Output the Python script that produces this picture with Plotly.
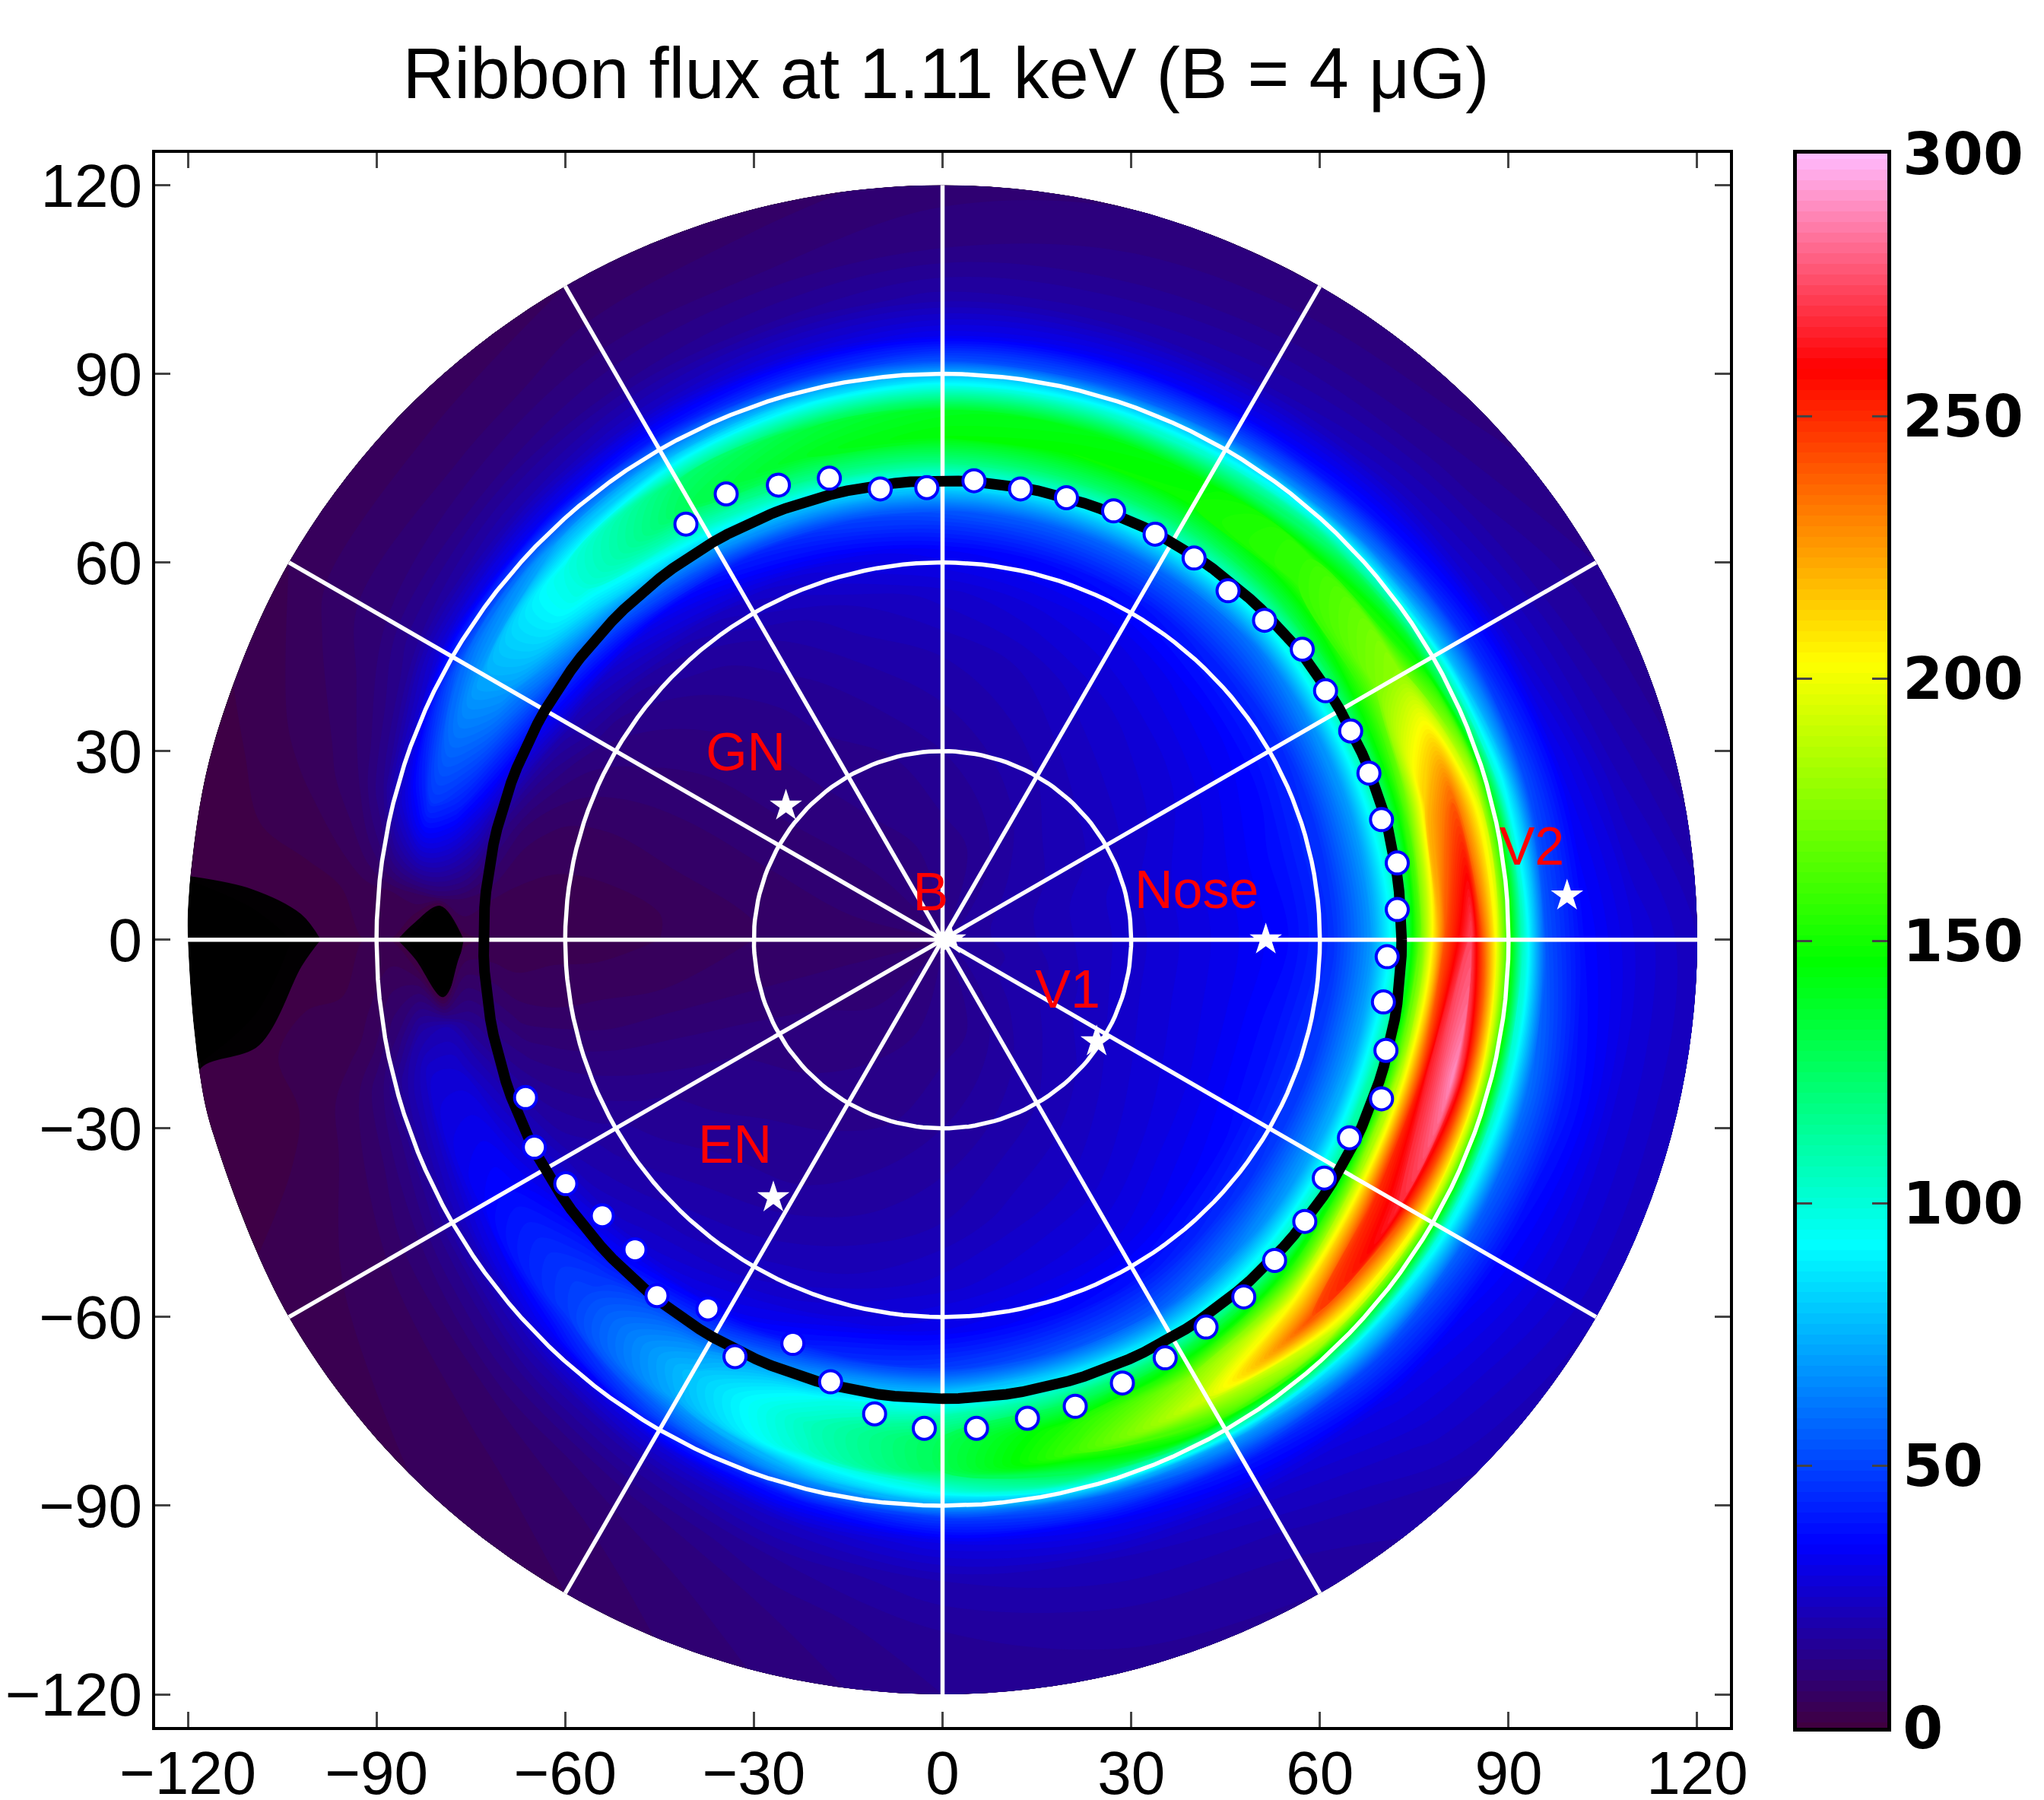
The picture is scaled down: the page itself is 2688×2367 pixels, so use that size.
import numpy as np
import plotly.graph_objects as go

# flux table: one row per angle (deg from +x), one column per radius
radii = [1, 15, 30, 45, 55, 62, 68, 72, 76, 80, 84, 88, 92, 96, 102, 110, 120]
angles = [-180, -170, -165, -150, -135, -120, -105, -90, -75, -60, -45, -30, -15, 0,
          15, 30, 45, 60, 75, 90, 105, 120, 135, 150, 165, 175, 180]
flux = [
    [10, 9, 8, 6, 5, 5, 4, 4, 3, -30, -2, 4, 4, 3, 1, -4, -30],
    [10, 10, 9, 8, 8, 8, 9, 12, 16, 22, 20, 12, 7, 5, 6, 3, 2],
    [10, 10, 10, 10, 10, 11, 13, 16, 22, 28, 28, 20, 12, 8, 5, 3, 2],
    [10, 11, 13, 15, 17, 19, 22, 28, 34, 38, 36, 26, 17, 12, 8, 6, 5],
    [11, 12, 14, 17, 20, 23, 28, 38, 48, 52, 50, 36, 23, 16, 10, 7, 6],
    [12, 13, 15, 18, 22, 26, 34, 52, 72, 80, 76, 55, 30, 20, 13, 10, 8],
    [13, 14, 16, 20, 24, 30, 45, 72, 98, 108, 105, 75, 40, 26, 18, 14, 12],
    [14, 15, 18, 22, 27, 34, 50, 80, 112, 130, 130, 95, 50, 32, 22, 18, 16],
    [15, 16, 20, 25, 30, 37, 55, 88, 125, 155, 162, 125, 58, 36, 24, 20, 17],
    [16, 18, 22, 27, 32, 40, 58, 90, 135, 178, 195, 160, 72, 42, 27, 21, 18],
    [17, 20, 24, 30, 36, 46, 68, 100, 150, 205, 245, 190, 90, 52, 33, 27, 22],
    [18, 21, 26, 32, 39, 50, 75, 112, 185, 250, 268, 205, 100, 58, 38, 30, 24],
    [18, 21, 27, 33, 40, 50, 75, 115, 190, 265, 290, 210, 105, 62, 42, 30, 24],
    [18, 22, 27, 33, 38, 47, 70, 100, 170, 243, 275, 203, 110, 55, 38, 30, 24],
    [18, 22, 27, 33, 39, 48, 72, 105, 160, 220, 240, 195, 100, 54, 34, 24, 18],
    [18, 21, 25, 31, 37, 46, 70, 105, 148, 175, 180, 145, 80, 47, 28, 20, 16],
    [17, 20, 24, 29, 35, 44, 62, 95, 132, 158, 160, 122, 65, 40, 25, 17, 13],
    [16, 18, 22, 27, 32, 40, 60, 92, 125, 150, 146, 103, 58, 36, 22, 16, 12],
    [15, 16, 20, 24, 30, 38, 58, 88, 124, 148, 143, 100, 55, 35, 21, 15, 12],
    [14, 15, 18, 22, 27, 36, 55, 85, 120, 146, 141, 98, 55, 34, 21, 14, 11],
    [13, 14, 16, 20, 24, 32, 50, 80, 117, 141, 134, 90, 48, 30, 18, 12, 9],
    [12, 13, 15, 17, 20, 26, 42, 72, 107, 130, 124, 80, 42, 26, 16, 11, 8],
    [11, 12, 13, 14, 16, 20, 32, 55, 85, 102, 100, 72, 35, 22, 14, 9, 7],
    [10, 11, 11, 11, 12, 14, 22, 38, 58, 72, 75, 60, 30, 18, 12, 9, 6],
    [10, 10, 9, 8, 7, 7, 9, 15, 30, 42, 48, 32, 16, 10, 7, 5, 3],
    [10, 9, 8, 6, 5, 5, 5, 6, 8, 10, 8, 6, 5, 4, 3, 3, 3],
    [10, 9, 8, 6, 5, 5, 4, 4, 3, -30, -2, 4, 4, 3, 1, -4, -30],
]

dots_x = [-40.8, -34.4, -26.1, -18.0, -9.9, -2.5, 5.0, 12.4, 19.7, 27.2, 33.8, 40.0, 45.4, 51.2, 57.2, 60.9,
          64.9, 67.8, 69.8, 72.3, 72.3, 70.7, 70.1, 70.5, 69.8, 64.7, 60.7, 57.6, 52.8, 47.9, 41.9, 35.4,
          28.6, 21.1, 13.5, 5.4, -2.9, -10.8, -17.8, -23.8, -33.0, -37.3, -45.4, -48.9, -54.1, -59.9, -64.9, -66.3]
dots_y = [66.1, 70.9, 72.3, 73.4, 71.7, 71.9, 73.0, 71.7, 70.3, 68.2, 64.5, 60.7, 55.5, 50.8, 46.2, 39.6,
          33.2, 26.5, 19.1, 12.2, 4.8, -2.7, -9.9, -17.6, -25.3, -31.5, -37.9, -44.8, -51.0, -56.8, -61.6, -66.5,
          -70.5, -74.2, -76.1, -77.7, -77.7, -75.4, -70.3, -64.2, -66.3, -58.7, -56.6, -49.3, -43.9, -38.8, -33.0, -25.1]

star_names = ["GN", "V2", "Nose", "V1", "EN", "B"]
star_x = [-24.9, 99.3, 51.4, 24.5, -26.9, 1.2]
star_y = [21.3, 7.0, 0.0, -16.2, -41.0, 0.0]
label_x = [-31.3, 93.7, 40.4, 19.9, -33.0, -1.9]
label_y = [29.0, 14.0, 7.2, -8.7, -33.4, 6.8]

ribbon_radius = 73
grid_radii = [30, 60, 90]
spoke_angles = [0, 30, 60, 90, 120, 150, 180, 210, 240, 270, 300, 330]
tick_vals = [-120, -90, -60, -30, 0, 30, 60, 90, 120]
cbar_ticks = [0, 50, 100, 150, 200, 250, 300]
cbar_levels = list(range(0, 301, 2))

W, H = 2688, 2367
zmin, zmax = -6, 300


def px(v):
    return v / W


def py(v):
    return 1 - v / H


def norm(v):
    return (v - zmin) / (zmax - zmin)


colors = [
    [0, "#000000"], [norm(-1), "#000000"], [norm(0), "#400040"], [norm(35), "#0000ff"], [norm(92), "#00ffff"],
    [norm(146), "#00ff00"], [norm(203), "#ffff00"], [norm(259), "#ff0000"], [1, "#ffbbff"],
]

rr, aa = np.meshgrid(radii, np.radians(angles))
hidden = dict(showgrid=False, minorgridcount=0, startline=False, endline=False,
              showticklabels="none", smoothing=1, labelpadding=0)

fig = go.Figure()
fig.add_trace(go.Carpet(a=radii, b=angles, x=rr * np.cos(aa), y=rr * np.sin(aa), carpet="map",
                        aaxis=hidden, baxis=hidden))
fig.add_trace(go.Contourcarpet(a=radii, b=angles, z=flux, carpet="map", autocontour=False,
                               contours=dict(start=-4, end=300, size=2, coloring="fill", showlines=False),
                               line=dict(width=0), colorscale=colors, zmin=zmin, zmax=zmax, showscale=False))

t = np.radians(np.arange(0, 361, 2))
for r in grid_radii:
    fig.add_trace(go.Scatter(x=r * np.cos(t), y=r * np.sin(t), mode="lines",
                             line=dict(color="white", width=5.5), showlegend=False))
for a in spoke_angles:
    fig.add_trace(go.Scatter(x=[0, 120 * np.cos(np.radians(a))], y=[0, 120 * np.sin(np.radians(a))], mode="lines",
                             line=dict(color="white", width=5.5), showlegend=False))
fig.add_trace(go.Scatter(x=ribbon_radius * np.cos(t), y=ribbon_radius * np.sin(t), mode="lines",
                         line=dict(color="black", width=14), showlegend=False))
fig.add_trace(go.Scatter(x=dots_x, y=dots_y, mode="markers",
                         marker=dict(size=29, color="white", line=dict(color="#0000ff", width=4)), showlegend=False))
fig.add_trace(go.Scatter(x=star_x, y=star_y, mode="markers",
                         marker=dict(symbol="star", size=32, color="white", line=dict(width=0)), showlegend=False))
fig.add_trace(go.Scatter(x=label_x, y=label_y, mode="text", text=star_names,
                         textfont=dict(family="Liberation Sans", size=70, color="#ff0000"), showlegend=False))

# colour bar as its own little axes so the ticks can sit on both sides
fig.add_trace(go.Heatmap(x=[0, 1], y=cbar_levels, z=[[v, v] for v in cbar_levels], xaxis="x2", yaxis="y2",
                         colorscale=colors, zmin=zmin, zmax=zmax, showscale=False))

axis = dict(range=[-125.2, 125.2], tickvals=tick_vals, ticks="inside", ticklen=20, tickwidth=3, automargin=False,
            showline=True, linecolor="black", linewidth=4, mirror="allticks", showgrid=False, zeroline=False,
            tickfont=dict(family="Liberation Sans", size=80, color="black"))
fig.update_layout(
    width=W, height=H, margin=dict(l=0, r=0, t=0, b=0), paper_bgcolor="white", plot_bgcolor="white",
    showlegend=False,
    title=dict(text="Ribbon flux at 1.11 keV (B = 4 μG)", x=px(1244), y=py(96), xanchor="center", yanchor="middle",
               font=dict(family="Liberation Sans", size=94, color="black")),
    xaxis=dict(axis, domain=[px(204), px(2275)], ticklabelstandoff=-12),
    yaxis=dict(axis, domain=[py(2271), py(200.5)], ticklabelstandoff=-3),
    xaxis2=dict(domain=[px(2363), px(2482)], anchor="y2", range=[0, 1], showticklabels=False, ticks="", automargin=False,
                showline=True, linecolor="black", linewidth=5, mirror=True, showgrid=False, zeroline=False),
    yaxis2=dict(domain=[py(2272), py(202)], anchor="x2", side="right", range=[0, 300], tickvals=cbar_ticks,
                ticks="inside", ticklen=20, tickwidth=3, showline=True, linecolor="black", linewidth=5, automargin=False,
                mirror="allticks", showgrid=False, zeroline=False,
                tickfont=dict(family="DejaVu Sans", size=76, color="black", weight="bold")),
)

fig.write_html("out.html", config=dict(displayModeBar=False),
               post_script="document.body.style.margin = '0'; document.body.style.overflow = 'hidden';")
